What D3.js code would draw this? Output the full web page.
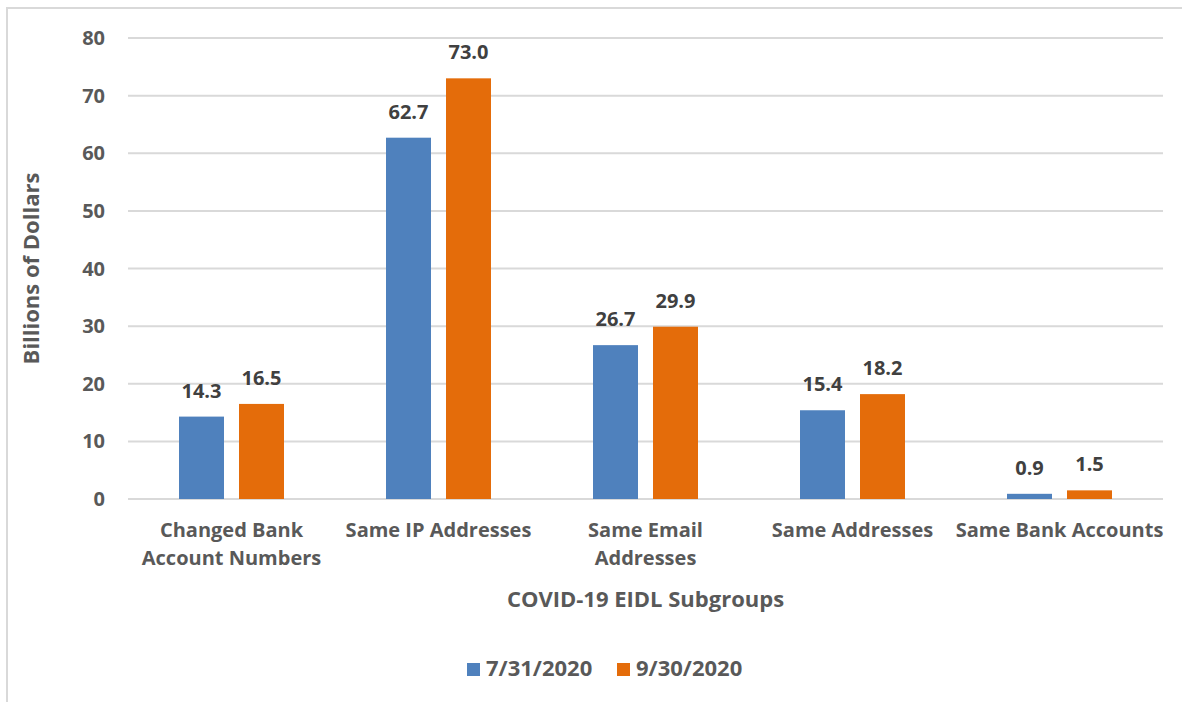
<!DOCTYPE html>
<html>
<head>
<meta charset="utf-8">
<script src="https://cdn.jsdelivr.net/npm/d3@7"></script>
<style>
  body { margin: 0; background: #fff; }
  text { font-family: "Open Sans", sans-serif; font-weight: 700; fill: #595959; }
</style>
</head>
<body>
<div class="chart"></div>
<script>
var categories = [["Changed Bank", "Account Numbers"], ["Same IP Addresses"], ["Same Email", "Addresses"], ["Same Addresses"], ["Same Bank Accounts"]];
var seriesNames = ["7/31/2020", "9/30/2020"];
var values_jul = [14.3, 62.7, 26.7, 15.4, 0.9];
var values_sep = [16.5, 73.0, 29.9, 18.2, 1.5];
var yTicks = [0, 10, 20, 30, 40, 50, 60, 70, 80];
var colors = ["#4f81bd", "#e46c0a"];

var W = 1182, H = 702;
var margin = { top: 38, right: 19, bottom: 203, left: 128 },
    width = W - margin.left - margin.right,
    height = H - margin.top - margin.bottom;

var svg = d3.select(".chart").append("svg")
    .attr("width", W)
    .attr("height", H);

// outer chart border (runs off right and bottom)
svg.append("rect")
    .attr("x", 7).attr("y", 8)
    .attr("width", W + 10).attr("height", H + 10)
    .attr("fill", "none")
    .attr("stroke", "#d9d9d9")
    .attr("stroke-width", 2);

var g = svg.append("g")
    .attr("transform", "translate(" + margin.left + "," + margin.top + ")");

var y = d3.scaleLinear().domain([0, 80]).range([height, 0]);
var idx = d3.range(categories.length);
var x0 = d3.scaleBand().domain(idx).range([0, width]);
var groupW = 105;
var x1 = d3.scaleBand().domain([0, 1]).range([0, groupW]).paddingInner(0.25);

// gridlines
g.selectAll(".grid").data(yTicks).enter().append("line")
    .attr("x1", 0).attr("x2", width)
    .attr("y1", function (d) { return y(d); })
    .attr("y2", function (d) { return y(d); })
    .attr("stroke", "#d9d9d9")
    .attr("stroke-width", 2);

// y tick labels
g.selectAll(".ytick").data(yTicks).enter().append("text")
    .attr("x", -23)
    .attr("y", function (d) { return y(d); })
    .attr("dy", "0.35em")
    .attr("text-anchor", "end")
    .style("font-size", "20px")
    .text(function (d) { return d; });

var series = [values_jul, values_sep];
series.forEach(function (vals, s) {
    var grp = g.append("g");
    grp.selectAll("rect").data(vals).enter().append("rect")
        .attr("x", function (d, i) { return x0(i) + x0.bandwidth() / 2 - groupW / 2 + x1(s); })
        .attr("y", function (d) { return y(d); })
        .attr("width", x1.bandwidth())
        .attr("height", function (d) { return height - y(d); })
        .attr("fill", colors[s]);
    grp.selectAll("text").data(vals).enter().append("text")
        .attr("x", function (d, i) { return x0(i) + x0.bandwidth() / 2 - groupW / 2 + x1(s) + x1.bandwidth() / 2; })
        .attr("y", function (d) { return y(d) - 19; })
        .attr("text-anchor", "middle")
        .style("font-size", "20px")
        .style("fill", "#404040")
        .text(function (d) { return d.toFixed(1); });
});

// category labels
var cat = g.selectAll(".cat").data(categories).enter().append("text")
    .attr("text-anchor", "middle")
    .attr("transform", function (d, i) { return "translate(" + (x0(i) + x0.bandwidth() / 2) + "," + (height + 38) + ")"; })
    .style("font-size", "20px");
cat.selectAll("tspan").data(function (d) { return d; }).enter().append("tspan")
    .attr("x", 0)
    .attr("dy", function (d, i) { return i === 0 ? 0 : 28; })
    .text(function (d) { return d; });

// axis titles
svg.append("text")
    .attr("transform", "translate(39," + (margin.top + height / 2) + ") rotate(-90)")
    .attr("text-anchor", "middle")
    .style("font-size", "22px")
    .text("Billions of Dollars");

svg.append("text")
    .attr("x", margin.left + width / 2)
    .attr("y", 607)
    .attr("text-anchor", "middle")
    .style("font-size", "22px")
    .text("COVID-19 EIDL Subgroups");

// legend
var legendX = [467, 617];
seriesNames.forEach(function (name, s) {
    svg.append("rect")
        .attr("x", legendX[s]).attr("y", 663)
        .attr("width", 13).attr("height", 13)
        .attr("fill", colors[s]);
    svg.append("text")
        .attr("x", legendX[s] + 19).attr("y", 676)
        .style("font-size", "22px")
        .text(name);
});
</script>
</body>
</html>
